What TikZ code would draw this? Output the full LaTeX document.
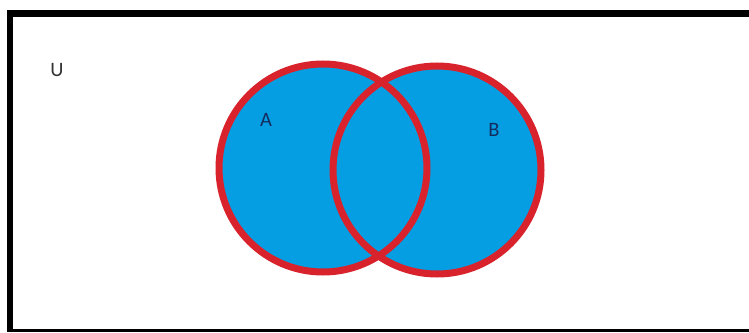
\documentclass[tikz,border=0pt]{standalone}
\usepackage{fontspec}
\setmainfont{Carlito}
\definecolor{vennblue}{RGB}{6,158,226}
\definecolor{vennred}{RGB}{216,34,44}
\definecolor{labelnavy}{RGB}{20,45,95}
\tikzset{
  setfill/.style={fill=vennblue},
  setedge/.style={draw=vennred, line width=7pt},
  framebar/.style={fill=black},
  setlabel/.style={font=\fontsize{20.5}{20.5}\selectfont, text=labelnavy, inner sep=0pt},
  unilabel/.style={font=\fontsize{20.5}{20.5}\selectfont, text=black!80, inner sep=0pt}
}
\begin{document}
\begin{tikzpicture}[x=1pt,y=-1pt]
\useasboundingbox (0,0) rectangle (749,332);
\fill[white] (0,0) rectangle (749,332);
% frame
\fill[framebar] (7,10) rectangle (749,17);
\fill[framebar] (7,10) rectangle (13,332);
\fill[framebar] (7,329) rectangle (749,332);
% sets
\coordinate (ca) at (323,168);
\coordinate (cb) at (437,170);
\fill[setfill] (ca) circle (104);
\fill[setfill] (cb) circle (104);
\draw[setedge] (ca) circle (104);
\draw[setedge] (cb) circle (104);
% labels
\node[unilabel] (u) at (57,70) {U};
\node[setlabel] (a) at (266,120) {A};
\node[setlabel] (b) at (494,130) {B};
\end{tikzpicture}
\end{document}
